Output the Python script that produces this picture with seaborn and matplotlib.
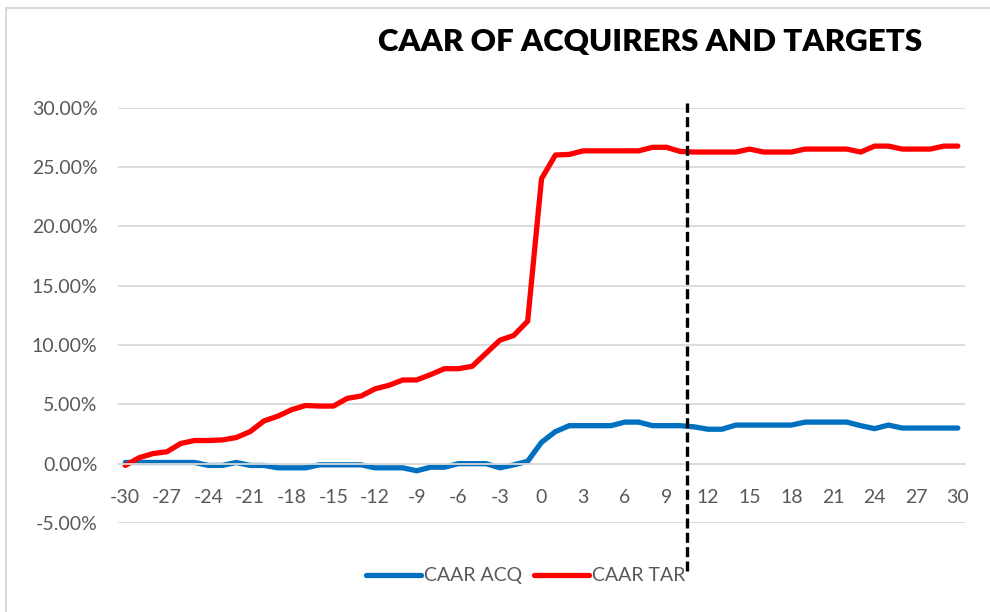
import matplotlib
matplotlib.use("Agg")
import matplotlib.pyplot as plt
from matplotlib.lines import Line2D
from matplotlib.ticker import FuncFormatter
import pandas as pd
import seaborn as sns

# ===============================
# Data (CAAR in %, event window -30..30)
# ===============================
days = list(range(-30, 31))

caar_acq = [
    0.1, 0.1, 0.1, 0.1, 0.1, 0.1, -0.15, -0.15, 0.1, -0.15,      # -30..-21
    -0.15, -0.35, -0.35, -0.35, -0.1, -0.1, -0.1, -0.1, -0.35, -0.35,  # -20..-11
    -0.35, -0.6, -0.3, -0.3, 0.0, 0.0, 0.0, -0.35, -0.1, 0.2,    # -10..-1
    1.8, 2.7, 3.2, 3.2, 3.2, 3.2, 3.5, 3.5, 3.2, 3.2,            # 0..9
    3.2, 3.1, 2.9, 2.9, 3.25, 3.25, 3.25, 3.25, 3.25, 3.5,       # 10..19
    3.5, 3.5, 3.5, 3.2, 2.95, 3.25, 3.0, 3.0, 3.0, 3.0,          # 20..29
    3.0,                                                         # 30
]

caar_tar = [
    -0.15, 0.5, 0.85, 1.0, 1.7, 1.95, 1.95, 2.0, 2.2, 2.7,       # -30..-21
    3.6, 4.0, 4.55, 4.9, 4.85, 4.85, 5.5, 5.7, 6.3, 6.6,         # -20..-11
    7.05, 7.05, 7.5, 8.0, 8.0, 8.2, 9.3, 10.4, 10.8, 12.0,       # -10..-1
    24.0, 26.0, 26.05, 26.35, 26.35, 26.35, 26.35, 26.35, 26.65, 26.65,  # 0..9
    26.3, 26.25, 26.25, 26.25, 26.25, 26.5, 26.25, 26.25, 26.25, 26.5,   # 10..19
    26.5, 26.5, 26.5, 26.25, 26.75, 26.75, 26.5, 26.5, 26.5, 26.75,      # 20..29
    26.75,                                                       # 30
]

series_names = ["CAAR ACQ", "CAAR TAR"]
series_colors = ["#0070C0", "#FF0000"]
x_ticks = list(range(-30, 31, 3))
y_ticks = [-5, 0, 5, 10, 15, 20, 25, 30]
event_split = 10.5  # dashed separator between day 10 and 11

df = pd.DataFrame({
    "day": days * 2,
    "caar": caar_acq + caar_tar,
    "series": [series_names[0]] * len(days) + [series_names[1]] * len(days),
})

# ===============================
# Plot
# ===============================
sns.set_theme(style="white")
plt.rcParams["font.family"] = ["Lato", "DejaVu Sans"]

GREY_TXT = "#595959"
GRID = "#D9D9D9"

fig = plt.figure(figsize=(9.9, 6.12), dpi=100)
ax = fig.add_axes([0.1195, 0.1454, 0.855, 0.6789])

sns.lineplot(
    data=df, x="day", y="caar", hue="series",
    palette=dict(zip(series_names, series_colors)),
    linewidth=3.8, ax=ax, legend=False,
)
for ln in ax.get_lines():
    ln.set_solid_capstyle("round")
    ln.set_solid_joinstyle("round")

ax.set_xlim(-30.5, 30.5)
ax.set_ylim(-5, 30)
ax.set_yticks(y_ticks)
ax.yaxis.set_major_formatter(FuncFormatter(lambda v, _: f"{v:.2f}%"))
ax.set_xticks(x_ticks)
ax.set_xticklabels([str(t) for t in x_ticks])
ax.set_xlabel("")
ax.set_ylabel("")

ax.grid(axis="y", color=GRID, linewidth=1.3)
ax.set_axisbelow(True)
for side in ["top", "right", "left"]:
    ax.spines[side].set_visible(False)
ax.spines["bottom"].set_position(("data", 0))
ax.spines["bottom"].set_color(GRID)
ax.spines["bottom"].set_linewidth(1.3)

ax.tick_params(axis="y", length=0, pad=15, labelsize=14, labelcolor=GREY_TXT)
ax.tick_params(axis="x", length=0, pad=18, labelsize=14, labelcolor=GREY_TXT)

# dashed separator, extends past the plot area as in the source
ax.axvline(event_split, ymin=-0.115, ymax=1.01, color="black", linewidth=2.4,
           dashes=(3, 1.3), clip_on=False, zorder=5)

# legend
handles = [Line2D([0], [0], color=c, linewidth=3.8, solid_capstyle="round")
           for c in series_colors]
fig.legend(handles, series_names, loc="center", bbox_to_anchor=(0.531, 0.059),
           ncol=2, frameon=False, fontsize=14, labelcolor=GREY_TXT,
           handlelength=2.8, handletextpad=0.15, columnspacing=0.65)

fig.text(0.657, 0.931, "CAAR OF ACQUIRERS AND TARGETS", ha="center", va="center",
         fontsize=22.5, fontweight="heavy", color="black")

# chart frame (top and left edges visible in the source)
fig.add_artist(Line2D([0.006, 1.0], [0.987, 0.987], transform=fig.transFigure,
                      color=GRID, linewidth=1.5))
fig.add_artist(Line2D([0.006, 0.006], [0.0, 0.987], transform=fig.transFigure,
                      color=GRID, linewidth=1.5))

fig.savefig("out.png", dpi=100)
